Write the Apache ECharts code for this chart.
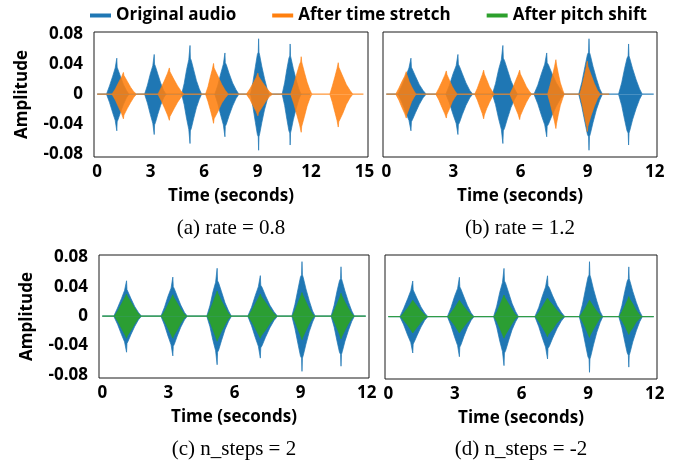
<!DOCTYPE html>
<html><head><meta charset="utf-8">
<script src="https://cdn.jsdelivr.net/npm/echarts@6/dist/echarts.min.js"></script>
<style>html,body{margin:0;padding:0;background:#fff}#c{width:679px;height:462px}</style>
</head><body><div id="c"></div>
<script>
// ---- tick labels ----
const ampTicks = [-0.08, -0.04, 0, 0.04, 0.08];
const timeTicks15 = [0, 3, 6, 9, 12, 15];
const timeTicks12 = [0, 3, 6, 9, 12];
const legendNames = ['Original audio', 'After time stretch', 'After pitch shift'];
const captions = ['(a) rate = 0.8', '(b) rate = 1.2', '(c) n_steps = 2', '(d) n_steps = -2'];

// ---- original audio envelope (seconds, upper / lower amplitude) ----
const origTime = [0,
 0.52,0.69,0.87,1.01,1.08,1.10,1.12,1.17,1.30,1.47,1.64,1.78,
 2.66,2.82,2.98,3.12,3.18,3.20,3.22,3.27,3.40,3.56,3.73,3.86,
 4.74,4.88,5.02,5.14,5.19,5.21,5.23,5.28,5.41,5.57,5.73,5.86,
 6.60,6.77,6.94,7.08,7.15,7.17,7.19,7.25,7.40,7.60,7.79,7.95,
 8.60,8.74,8.88,8.99,9.04,9.06,9.08,9.12,9.24,9.39,9.54,9.66,
 10.38,10.52,10.65,10.76,10.81,10.83,10.85,10.89,11.01,11.17,11.32,11.44,
 11.95];
const origUpper = [0,
 0,0.011,0.024,0.035,0.036,0.048,0.036,0.034,0.024,0.013,0.005,0,
 0,0.012,0.027,0.038,0.040,0.053,0.040,0.037,0.027,0.015,0.005,0,
 0,0.014,0.033,0.046,0.048,0.065,0.048,0.045,0.033,0.018,0.007,0,
 0,0.012,0.028,0.040,0.042,0.055,0.042,0.039,0.028,0.015,0.006,0,
 0,0.016,0.037,0.053,0.056,0.074,0.056,0.052,0.037,0.021,0.007,0,
 0,0.015,0.034,0.048,0.051,0.067,0.051,0.047,0.034,0.019,0.007,0,
 0];
const origLower = [0,
 0,-0.011,-0.025,-0.035,-0.037,-0.049,-0.037,-0.034,-0.025,-0.014,-0.005,0,
 0,-0.012,-0.027,-0.039,-0.041,-0.054,-0.041,-0.038,-0.027,-0.015,-0.005,0,
 0,-0.014,-0.033,-0.047,-0.049,-0.066,-0.049,-0.046,-0.033,-0.018,-0.007,0,
 0,-0.013,-0.029,-0.041,-0.043,-0.057,-0.043,-0.040,-0.029,-0.016,-0.006,0,
 0,-0.017,-0.038,-0.054,-0.057,-0.075,-0.057,-0.053,-0.038,-0.021,-0.008,0,
 0,-0.015,-0.034,-0.049,-0.052,-0.068,-0.052,-0.048,-0.034,-0.019,-0.007,0,
 0];

// ---- time stretch, rate = 0.8 ----
const slowTime = [0,
 0.83,1.02,1.21,1.37,1.44,1.47,1.50,1.54,1.69,1.88,2.06,2.21,
 3.41,3.60,3.79,3.95,4.02,4.05,4.08,4.13,4.30,4.51,4.71,4.88,
 6.08,6.22,6.35,6.46,6.50,6.53,6.56,6.61,6.78,6.99,7.19,7.36,
 8.37,8.57,8.76,8.92,8.99,9.02,9.05,9.10,9.27,9.48,9.68,9.85,
 10.86,11.04,11.21,11.36,11.42,11.45,11.48,11.51,11.63,11.78,11.93,12.05,
 13.06,13.20,13.34,13.46,13.50,13.53,13.56,13.61,13.78,13.98,14.19,14.35,
 14.94];
const slowUpper = [0,
 0,0.007,0.016,0.023,0.025,0.029,0.025,0.023,0.017,0.009,0.003,0,
 0,0.009,0.019,0.028,0.030,0.035,0.030,0.028,0.020,0.011,0.004,0,
 0,0.010,0.023,0.033,0.035,0.041,0.035,0.033,0.024,0.013,0.005,0,
 0,0.007,0.015,0.022,0.024,0.028,0.024,0.022,0.016,0.009,0.003,0,
 0,0.013,0.028,0.040,0.043,0.050,0.043,0.040,0.029,0.016,0.006,0,
 0,0.011,0.023,0.034,0.036,0.042,0.036,0.034,0.024,0.013,0.005,0,
 0];
const slowLower = [0,
 0,-0.008,-0.018,-0.026,-0.028,-0.033,-0.028,-0.026,-0.019,-0.011,-0.004,0,
 0,-0.009,-0.019,-0.028,-0.030,-0.035,-0.030,-0.028,-0.020,-0.011,-0.004,0,
 0,-0.010,-0.021,-0.031,-0.033,-0.039,-0.033,-0.031,-0.023,-0.012,-0.005,0,
 0,-0.007,-0.016,-0.023,-0.025,-0.029,-0.025,-0.023,-0.017,-0.009,-0.003,0,
 0,-0.013,-0.028,-0.041,-0.043,-0.051,-0.043,-0.041,-0.030,-0.016,-0.006,0,
 0,-0.011,-0.024,-0.035,-0.037,-0.044,-0.037,-0.035,-0.026,-0.014,-0.005,0,
 0];

// ---- time stretch, rate = 1.2 ----
const fastTime = [0,
 0.42,0.56,0.70,0.82,0.86,0.89,0.92,0.95,1.02,1.13,1.24,1.33,
 2.21,2.35,2.49,2.61,2.65,2.68,2.71,2.74,2.83,2.95,3.07,3.17,
 3.95,4.07,4.19,4.29,4.32,4.35,4.38,4.41,4.49,4.61,4.73,4.83,
 5.52,5.65,5.78,5.89,5.93,5.96,5.99,6.02,6.12,6.26,6.39,6.50,
 7.21,7.32,7.43,7.52,7.55,7.58,7.61,7.63,7.69,7.78,7.88,7.95,
 8.65,8.75,8.85,8.93,8.96,8.98,9.01,9.04,9.15,9.30,9.44,9.56,
 9.96];
const fastUpper = [0,
 0,0.008,0.017,0.024,0.026,0.030,0.026,0.024,0.017,0.010,0.004,0,
 0,0.008,0.017,0.025,0.026,0.031,0.026,0.025,0.018,0.010,0.004,0,
 0,0.008,0.018,0.026,0.027,0.032,0.027,0.026,0.019,0.010,0.004,0,
 0,0.008,0.018,0.026,0.027,0.032,0.027,0.026,0.019,0.010,0.004,0,
 0,0.012,0.025,0.037,0.039,0.046,0.039,0.037,0.027,0.015,0.006,0,
 0,0.011,0.024,0.035,0.037,0.044,0.037,0.035,0.026,0.014,0.005,0,
 0];
const fastLower = [0,
 0,-0.008,-0.018,-0.026,-0.027,-0.032,-0.027,-0.026,-0.019,-0.010,-0.004,0,
 0,-0.008,-0.018,-0.026,-0.027,-0.032,-0.027,-0.026,-0.019,-0.010,-0.004,0,
 0,-0.008,-0.018,-0.026,-0.028,-0.033,-0.028,-0.026,-0.019,-0.011,-0.004,0,
 0,-0.009,-0.019,-0.027,-0.029,-0.034,-0.029,-0.027,-0.020,-0.011,-0.004,0,
 0,-0.012,-0.025,-0.037,-0.039,-0.046,-0.039,-0.037,-0.027,-0.015,-0.006,0,
 0,-0.013,-0.028,-0.040,-0.043,-0.050,-0.043,-0.040,-0.029,-0.016,-0.006,0,
 0];

// ---- pitch shift, n_steps = 2 ----
const upTime = [0,
 0.55,0.72,0.88,1.02,1.07,1.10,1.13,1.17,1.30,1.46,1.62,1.75,
 2.68,2.84,2.99,3.12,3.17,3.20,3.23,3.26,3.39,3.55,3.71,3.84,
 4.76,4.90,5.03,5.14,5.18,5.21,5.24,5.27,5.40,5.56,5.71,5.84,
 6.62,6.79,6.95,7.09,7.14,7.17,7.20,7.25,7.40,7.58,7.77,7.92,
 8.62,8.75,8.88,8.99,9.03,9.06,9.09,9.12,9.23,9.37,9.51,9.62,
 10.40,10.53,10.66,10.77,10.80,10.83,10.86,10.89,11.01,11.15,11.30,11.42,
 11.95];
const upUpper = [0,
 0,0.008,0.017,0.025,0.027,0.030,0.027,0.026,0.019,0.011,0.004,0,
 0,0.007,0.016,0.024,0.026,0.029,0.026,0.025,0.018,0.010,0.003,0,
 0,0.009,0.019,0.028,0.031,0.034,0.031,0.029,0.021,0.012,0.004,0,
 0,0.008,0.017,0.025,0.027,0.030,0.027,0.026,0.019,0.011,0.004,0,
 0,0.008,0.018,0.026,0.029,0.032,0.029,0.027,0.020,0.011,0.004,0,
 0,0.008,0.017,0.025,0.028,0.031,0.028,0.026,0.019,0.011,0.004,0,
 0];
const upLower = [0,
 0,-0.008,-0.017,-0.025,-0.027,-0.030,-0.027,-0.026,-0.019,-0.011,-0.004,0,
 0,-0.008,-0.017,-0.025,-0.027,-0.030,-0.027,-0.026,-0.019,-0.010,-0.003,0,
 0,-0.009,-0.019,-0.028,-0.031,-0.034,-0.031,-0.029,-0.021,-0.012,-0.004,0,
 0,-0.008,-0.017,-0.025,-0.027,-0.030,-0.027,-0.026,-0.019,-0.011,-0.004,0,
 0,-0.008,-0.018,-0.026,-0.029,-0.032,-0.029,-0.027,-0.020,-0.011,-0.004,0,
 0,-0.008,-0.017,-0.025,-0.028,-0.031,-0.028,-0.026,-0.019,-0.011,-0.004,0,
 0];

// ---- pitch shift, n_steps = -2 ----
const downTime = [0,
 0.55,0.72,0.88,1.02,1.07,1.10,1.13,1.17,1.30,1.46,1.62,1.75,
 2.68,2.84,2.99,3.12,3.17,3.20,3.23,3.26,3.39,3.55,3.71,3.84,
 4.76,4.90,5.03,5.14,5.18,5.21,5.24,5.27,5.40,5.56,5.71,5.84,
 6.62,6.79,6.95,7.09,7.14,7.17,7.20,7.25,7.40,7.58,7.77,7.92,
 8.62,8.75,8.88,8.99,9.03,9.06,9.09,9.12,9.23,9.37,9.51,9.62,
 10.40,10.53,10.66,10.77,10.80,10.83,10.86,10.89,11.01,11.15,11.30,11.42,
 11.95];
const downUpper = [0,
 0,0.006,0.012,0.018,0.020,0.022,0.020,0.019,0.014,0.008,0.003,0,
 0,0.006,0.012,0.018,0.020,0.022,0.020,0.019,0.014,0.008,0.003,0,
 0,0.007,0.016,0.024,0.026,0.029,0.026,0.025,0.018,0.010,0.003,0,
 0,0.006,0.014,0.021,0.023,0.025,0.023,0.021,0.016,0.009,0.003,0,
 0,0.006,0.012,0.018,0.020,0.022,0.020,0.019,0.014,0.008,0.003,0,
 0,0.007,0.015,0.022,0.024,0.027,0.024,0.023,0.017,0.009,0.003,0,
 0];
const downLower = [0,
 0,-0.006,-0.012,-0.018,-0.020,-0.022,-0.020,-0.019,-0.014,-0.008,-0.003,0,
 0,-0.006,-0.012,-0.018,-0.020,-0.022,-0.020,-0.019,-0.014,-0.008,-0.003,0,
 0,-0.007,-0.016,-0.024,-0.026,-0.029,-0.026,-0.025,-0.018,-0.010,-0.003,0,
 0,-0.007,-0.015,-0.022,-0.024,-0.027,-0.024,-0.023,-0.017,-0.009,-0.003,0,
 0,-0.007,-0.015,-0.023,-0.025,-0.028,-0.025,-0.024,-0.017,-0.010,-0.003,0,
 0,-0.006,-0.013,-0.020,-0.022,-0.024,-0.022,-0.020,-0.015,-0.008,-0.003,0,
 0];

// ---------------------------------------------------------------
const BLUE = '#1f77b4', ORANGE = '#ff7f0e', GREEN = '#2ca02c';
const FONT = 'Open Sans';
const zip = (t, v) => t.map((x, i) => [x, v[i]]);

const grids = [
  {left: 94, top: 32, width: 274, height: 125},
  {left: 383, top: 32, width: 274, height: 125},
  {left: 99, top: 255, width: 270, height: 123},
  {left: 385, top: 255, width: 272, height: 124}
].map(g => Object.assign(g, {show: true, borderColor: '#1a1a1a', borderWidth: 1, backgroundColor: 'transparent'}));

const xRanges = [[-0.18, 15.2], [-0.15, 12.1], [-0.15, 12.1], [-0.15, 12.1]];
const xTicks = [timeTicks15, timeTicks12, timeTicks12, timeTicks12];

const xAxes = grids.map((g, i) => ({
  type: 'value', gridIndex: i, min: xRanges[i][0], max: xRanges[i][1],
  name: 'Time (seconds)', nameLocation: 'middle', nameGap: 31,
  nameTextStyle: {fontFamily: FONT, fontWeight: 'bold', fontSize: 17, color: '#000'},
  axisLine: {show: false, onZero: false}, axisTick: {show: false}, splitLine: {show: false},
  axisLabel: {customValues: xTicks[i], margin: 7, fontFamily: FONT, fontWeight: 'bold', fontSize: 17, color: '#000'}
}));

const yAxes = grids.map((g, i) => ({
  type: 'value', gridIndex: i, min: -0.084, max: 0.083,
  name: (i % 2 === 0) ? 'Amplitude' : '', nameLocation: 'middle', nameGap: 63, nameRotate: 90,
  nameTextStyle: {fontFamily: FONT, fontWeight: 'bold', fontSize: 17, color: '#000'},
  axisLine: {show: false, onZero: false}, axisTick: {show: false}, splitLine: {show: false},
  axisLabel: {show: i % 2 === 0, customValues: ampTicks, margin: 11, fontFamily: FONT, fontWeight: 'bold', fontSize: 17, color: '#000',
    formatter: v => (Math.abs(v) < 1e-9 ? '0' : v.toFixed(2))}
}));

function env(name, idx, t, up, lo, color, opacity, z) {
  const base = {
    name: name, type: 'line', xAxisIndex: idx, yAxisIndex: idx, showSymbol: false, symbol: 'none',
    silent: true, z: z, lineStyle: {color: color, width: 0.7, opacity: opacity},
    itemStyle: {color: color}, areaStyle: {color: color, opacity: opacity, origin: 0}
  };
  return [Object.assign({}, base, {data: zip(t, up)}), Object.assign({}, base, {data: zip(t, lo)})];
}

const series = [].concat(
  env(legendNames[0], 0, origTime, origUpper, origLower, BLUE, 1, 2),
  env(legendNames[1], 0, slowTime, slowUpper, slowLower, ORANGE, 0.88, 3),
  env(legendNames[0], 1, origTime, origUpper, origLower, BLUE, 1, 2),
  env(legendNames[1], 1, fastTime, fastUpper, fastLower, ORANGE, 0.88, 3),
  env(legendNames[0], 2, origTime, origUpper, origLower, BLUE, 1, 2),
  env(legendNames[2], 2, upTime, upUpper, upLower, GREEN, 0.95, 3),
  env(legendNames[0], 3, origTime, origUpper, origLower, BLUE, 1, 2),
  env(legendNames[2], 3, downTime, downUpper, downLower, GREEN, 0.95, 3)
);

const capPos = [[231, 228], [520, 228], [234, 449], [521, 449]];
const graphic = captions.map((c, i) => ({
  type: 'text', x: capPos[i][0], y: capPos[i][1],
  style: {text: c, fill: '#000', font: '21px "Liberation Serif"', textAlign: 'center', textVerticalAlign: 'middle'}
}));

const chart = echarts.init(document.getElementById('c'), null, {renderer: 'canvas'});
chart.setOption({
  animation: false,
  backgroundColor: '#fff',
  legend: {
    top: 2, left: 85, itemWidth: 21, itemHeight: 4, itemGap: 36, selectedMode: false,
    textStyle: {fontFamily: FONT, fontWeight: 'bold', fontSize: 17, color: '#000'},
    data: [
      {name: legendNames[0], icon: 'rect', itemStyle: {color: BLUE}},
      {name: legendNames[1], icon: 'rect', itemStyle: {color: ORANGE}},
      {name: legendNames[2], icon: 'rect', itemStyle: {color: GREEN}}
    ]
  },
  grid: grids, xAxis: xAxes, yAxis: yAxes, series: series, graphic: graphic
});
</script></body></html>
